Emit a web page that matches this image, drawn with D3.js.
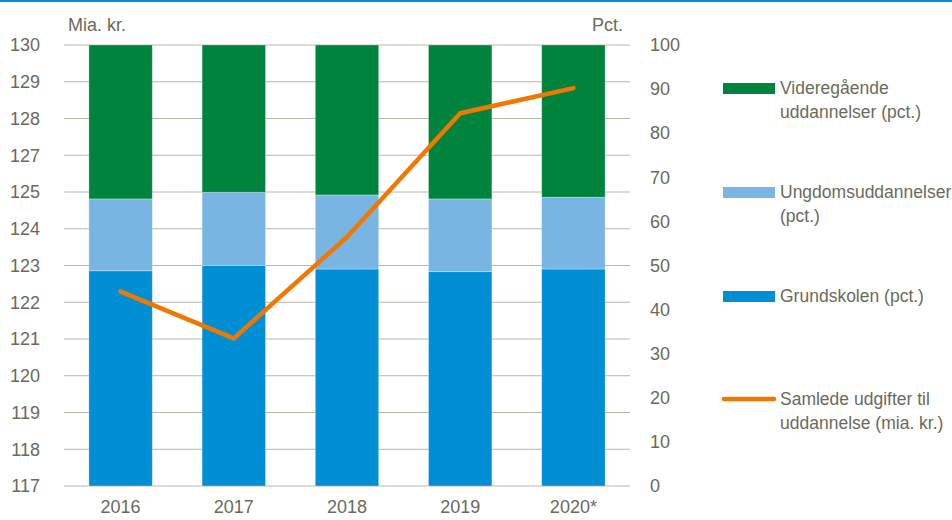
<!DOCTYPE html>
<html lang="da">
<head>
  <meta charset="UTF-8">
  <title>Udgifter til uddannelse</title>
  <script src="https://d3js.org/d3.v7.min.js"></script>
  <style>
    body { margin: 0; background: #fff; }
    svg { display: block; font-family: "Liberation Sans", Arial, sans-serif; }
    .tick text { fill: #6b6a5c; }
  </style>
</head>
<body>
  <div id="chart"></div>
  <script>
    // data
    var years = ["2016", "2017", "2018", "2019", "2020*"];
    var grundskolen = [48.8, 50.0, 49.2, 48.6, 49.2];
    var ungdom = [16.3, 16.6, 16.8, 16.5, 16.3];
    var videre = [34.9, 33.4, 34.0, 34.9, 34.5];
    var samlede = [122.73, 121.35, 124.34, 127.99, 128.73];
    // left axis: 12 equal steps from 117 to 130, labels rounded as in the original
    var leftTickLabels = ["117", "118", "119", "120", "121", "122", "123", "124", "125", "127", "128", "129", "130"];
    var rightTicks = d3.range(0, 101, 10);

    var width = 952, height = 520;
    // plot area (don't use "top" - clashes with window.top)
    var plotL = 64, plotR = 630, plotT = 45, plotB = 486;
    var textCol = "#6b6a5c";

    var svg = d3.select("#chart").append("svg")
      .attr("width", width)
      .attr("height", height);

    // top rule
    svg.append("rect").attr("x", 0).attr("y", 0).attr("width", width).attr("height", 2).attr("fill", "#0090d6");

    var x = d3.scaleBand().domain(years).range([plotL, plotR]).paddingInner(0.44).paddingOuter(0.22);
    var yL = d3.scaleLinear().domain([117, 130]).range([plotB, plotT]);
    var yR = d3.scaleLinear().domain([0, 100]).range([plotB, plotT]);

    var step = 13 / (leftTickLabels.length - 1);
    var leftTicks = leftTickLabels.map((d, i) => 117 + i * step);

    // gridlines
    svg.append("g").selectAll("line").data(leftTicks).enter().append("line")
      .attr("x1", plotL).attr("x2", plotR)
      .attr("y1", d => yL(d)).attr("y2", d => yL(d))
      .attr("stroke", "#b9b6a9").attr("stroke-width", 1);

    // stacked bars
    var colors = ["#008fd5", "#78b5e3", "#00843d"];
    var rows = years.map(function (y, i) {
      return { year: y, g: grundskolen[i], u: ungdom[i], v: videre[i] };
    });
    var stack = d3.stack().keys(["g", "u", "v"])(rows);
    svg.append("g").selectAll("g").data(stack).enter().append("g")
      .attr("fill", (d, i) => colors[i])
      .selectAll("rect").data(d => d).enter().append("rect")
      .attr("x", d => x(d.data.year))
      .attr("width", x.bandwidth())
      .attr("y", d => yR(d[1]))
      .attr("height", d => yR(d[0]) - yR(d[1]))
      .attr("stroke", "rgba(255,255,255,0.35)")
      .attr("stroke-width", 0.8);

    // line
    var line = d3.line()
      .x((d, i) => x(years[i]) + x.bandwidth() / 2)
      .y(d => yL(d));
    svg.append("path").datum(samlede)
      .attr("d", line)
      .attr("fill", "none")
      .attr("stroke", "#f07800")
      .attr("stroke-width", 4.5)
      .attr("stroke-linecap", "round")
      .attr("stroke-linejoin", "round");

    // axes
    var axL = svg.append("g").attr("transform", "translate(" + plotL + ",0)")
      .call(d3.axisLeft(yL).tickValues(leftTicks)
        .tickFormat((d, i) => leftTickLabels[i])
        .tickSize(0).tickPadding(24));
    axL.select(".domain").remove();
    var axR = svg.append("g").attr("transform", "translate(" + plotR + ",0)")
      .call(d3.axisRight(yR).tickValues(rightTicks).tickSize(0).tickPadding(20));
    axR.select(".domain").remove();
    var axB = svg.append("g").attr("transform", "translate(0," + plotB + ")")
      .call(d3.axisBottom(x).tickSize(0).tickPadding(14));
    axB.select(".domain").remove();
    svg.selectAll(".tick text").attr("font-size", 18).attr("font-family", "Liberation Sans, Arial, sans-serif");

    svg.append("text").attr("x", 68).attr("y", 31).attr("fill", textCol)
      .attr("font-size", 18).text("Mia. kr.");
    svg.append("text").attr("x", 623).attr("y", 31).attr("fill", textCol)
      .attr("text-anchor", "end").attr("font-size", 18).text("Pct.");

    // legend
    var legend = [
      { lines: ["Videregående", "uddannelser (pct.)"], color: "#00843d", type: "bar", y: 88 },
      { lines: ["Ungdomsuddannelser", "(pct.)"], color: "#78b5e3", type: "bar", y: 192 },
      { lines: ["Grundskolen (pct.)"], color: "#008fd5", type: "bar", y: 296 },
      { lines: ["Samlede udgifter til", "uddannelse (mia. kr.)"], color: "#f07800", type: "line", y: 399 }
    ];
    var lg = svg.append("g").selectAll("g").data(legend).enter().append("g");
    lg.each(function (d) {
      var g = d3.select(this);
      if (d.type === "bar") {
        g.append("rect").attr("x", 723).attr("y", d.y - 5).attr("width", 52).attr("height", 11).attr("fill", d.color);
      } else {
        g.append("line").attr("x1", 724).attr("x2", 774).attr("y1", d.y).attr("y2", d.y)
          .attr("stroke", d.color).attr("stroke-width", 4.5).attr("stroke-linecap", "round");
      }
      g.selectAll("text").data(d.lines).enter().append("text")
        .attr("x", 780).attr("y", (t, i) => d.y + 6 + i * 24)
        .attr("fill", textCol).attr("font-size", 17.5).text(t => t);
    });
  </script>
</body>
</html>
